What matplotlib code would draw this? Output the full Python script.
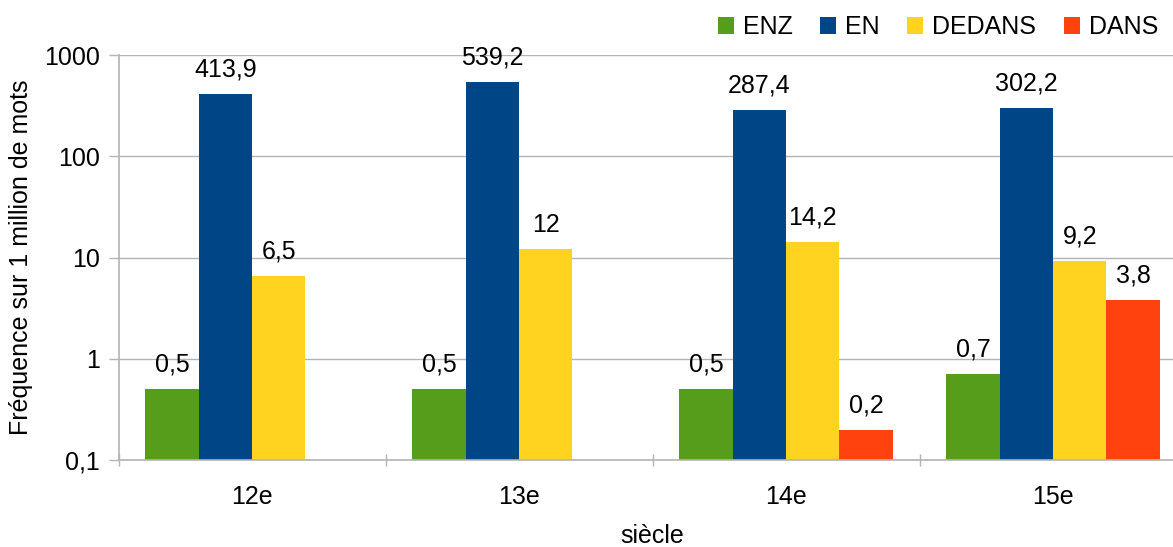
import matplotlib
matplotlib.use("Agg")
import matplotlib.pyplot as plt
import numpy as np

plt.rcParams['font.family'] = ['Liberation Sans', 'DejaVu Sans']

categories = ["12e", "13e", "14e", "15e"]
series_names = ["ENZ", "EN", "DEDANS", "DANS"]
enz = [0.5, 0.5, 0.5, 0.7]
en = [413.9, 539.2, 287.4, 302.2]
dedans = [6.5, 12, 14.2, 9.2]
dans = [None, None, 0.2, 3.8]
colors = ["#579D1C", "#004586", "#FFD320", "#FF420E"]
yticks = [0.1, 1, 10, 100, 1000]
ytick_labels = ["0,1", "1", "10", "100", "1000"]

W, H = 1173, 547
fig = plt.figure(figsize=(W / 100, H / 100), dpi=100)
ax = fig.add_axes([118.5 / W, 87 / H, 1068 / W, 405 / H])
ax.set_yscale("log", nonpositive="clip")

grid_c = "#b3b3b3"
fs = 18
width = 0.2
x = np.arange(len(categories))
all_series = [enz, en, dedans, dans]
handles = []
for k, (vals, name, col) in enumerate(zip(all_series, series_names, colors)):
    xs = [xi + (k - 1.5) * width for xi, v in zip(x, vals) if v is not None]
    vs = [v for v in vals if v is not None]
    bars = ax.bar(xs, vs, width=width, color=col, label=name, zorder=3)
    handles.append(bars)
    for xx, v in zip(xs, vs):
        txt = f"{v:g}".replace(".", ",")
        ax.annotate(txt, (xx, v), xytext=(0, 9), textcoords="offset points",
                    ha="center", va="bottom", fontsize=fs, color="black")

ax.set_ylim(0.1, 1000)
ax.set_xlim(-0.5, len(categories) - 0.5)
ax.set_yticks(yticks)
ax.set_yticklabels(ytick_labels, fontsize=fs)
ax.yaxis.set_minor_locator(matplotlib.ticker.NullLocator())
ax.set_xticks(x)
ax.set_xticklabels(categories, fontsize=fs)
ax.set_xticks(np.arange(len(categories) + 1) - 0.5, minor=True)

ax.tick_params(axis="y", which="major", length=7.5, width=1, color=grid_c, pad=6)
ax.tick_params(axis="x", which="major", length=0, pad=18)
ax.tick_params(axis="x", which="minor", length=8, width=1, color=grid_c, direction="inout")

ax.grid(axis="y", color=grid_c, linewidth=1, zorder=0)
for s in ["top", "right"]:
    ax.spines[s].set_visible(False)
for s in ["left", "bottom"]:
    ax.spines[s].set_color(grid_c)
    ax.spines[s].set_linewidth(1.2)
ax.spines["bottom"].set_zorder(4)

ax.set_ylabel("Fréquence sur 1 million de mots", fontsize=fs, labelpad=8)
ax.set_xlabel("siècle", fontsize=fs, labelpad=11)

fig.legend(handles=handles, labels=series_names, loc="upper right",
           bbox_to_anchor=(1.0, 1.0), ncol=4, frameon=False, fontsize=fs,
           handlelength=0.65, handleheight=0.65, handletextpad=0.35,
           columnspacing=1.1, borderaxespad=0.2)

fig.savefig("out.png", dpi=100)
